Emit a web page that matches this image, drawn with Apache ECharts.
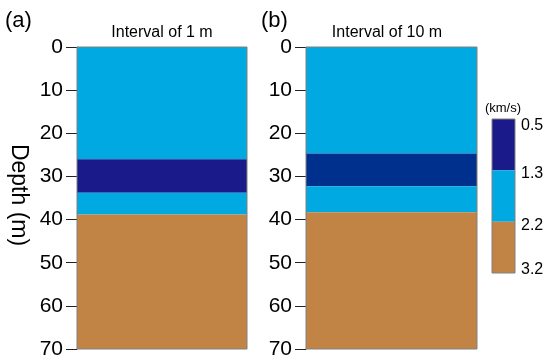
<!DOCTYPE html>
<html><head><meta charset="utf-8">
<script src="https://cdn.jsdelivr.net/npm/echarts@6/dist/echarts.min.js"></script>
<style>html,body{margin:0;padding:0;background:#fff}#c{width:550px;height:361px}</style>
</head><body><div id="c"></div>
<script>
// Depth axis ticks (m)
const depthTicks = [0, 10, 20, 30, 40, 50, 60, 70];
// Layer boundaries (depth, m) and layer classes for each panel
const layerTopsA = [0, 26, 33.8, 38.8];
const layerBottomsA = [26, 33.8, 38.8, 70];
const layerClassA = ['mid', 'lowA', 'mid', 'high'];
const layerTopsB = [0, 24.7, 32.3, 38.3];
const layerBottomsB = [24.7, 32.3, 38.3, 70];
const layerClassB = ['mid', 'lowB', 'mid', 'high'];
// Velocity legend (km/s)
const velocityLabels = ['0.5', '1.3', '2.2', '3.2'];
const legendClasses = ['lowA', 'mid', 'high'];
const panelTitles = ['Interval of 1 m', 'Interval of 10 m'];
const panelLetters = ['(a)', '(b)'];

const colors = { lowA: '#1b1a8b', lowB: '#00308e', mid: '#00a9e2', high: '#c18444' };
const FONT = 'Arial, "Liberation Sans", sans-serif';

function layerData(tops, bottoms, cls) {
  return tops.map((t, i) => [t, bottoms[i], cls[i]]);
}
function makeSeries(idx, data) {
  return {
    type: 'custom', xAxisIndex: idx, yAxisIndex: idx,
    renderItem: (params, api) => {
      const item = data[params.dataIndex];
      const p0 = api.coord([0, item[0]]);
      const p1 = api.coord([1, item[1]]);
      return {
        type: 'rect',
        shape: { x: Math.min(p0[0], p1[0]), y: Math.min(p0[1], p1[1]), width: Math.abs(p1[0] - p0[0]), height: Math.abs(p1[1] - p0[1]) },
        style: { fill: colors[item[2]] }
      };
    },
    encode: { y: [0, 1] },
    data: data.map(d => [d[0], d[1]]),
    silent: true
  };
}

const dataA = layerData(layerTopsA, layerBottomsA, layerClassA);
const dataB = layerData(layerTopsB, layerBottomsB, layerClassB);
const legendData = legendClasses.map((c, i) => [i, i + 1, c]);

const grids = [
  { left: 77, top: 47, width: 170, height: 302 },
  { left: 306, top: 47, width: 171, height: 302 },
  { left: 492, top: 119, width: 23, height: 154 }
].map(g => Object.assign(g, { show: true, borderColor: '#808080', borderWidth: 1, backgroundColor: 'transparent', z: 10 }));

function depthAxis(gi) {
  return {
    type: 'value', gridIndex: gi, inverse: true, min: depthTicks[0], max: depthTicks[depthTicks.length - 1], interval: 10,
    axisLine: { show: true, lineStyle: { color: '#808080', width: 1 } },
    axisTick: { show: true, inside: false, length: 11, lineStyle: { color: '#222', width: 1 } },
    axisLabel: { margin: 14, fontSize: 21, color: '#000', fontFamily: FONT },
    splitLine: { show: false }
  };
}
function hiddenX(gi) {
  return { type: 'value', gridIndex: gi, min: 0, max: 1, show: false };
}

const option = {
  animation: false,
  backgroundColor: '#fff',
  grid: grids,
  xAxis: [hiddenX(0), hiddenX(1), hiddenX(2)],
  yAxis: [depthAxis(0), depthAxis(1), {
    type: 'value', gridIndex: 2, inverse: true, min: 0, max: 3, interval: 1, position: 'right',
    axisLine: { show: false }, axisTick: { show: false }, splitLine: { show: false },
    axisLabel: { margin: 6, fontSize: 16, color: '#000', fontFamily: FONT,
      formatter: v => {
        const i = Math.round(v);
        const key = i === 0 ? 'first' : (i === velocityLabels.length - 1 ? 'last' : 'mid');
        return '{' + key + '|' + velocityLabels[i] + '}';
      },
      rich: {
        first: { fontSize: 16, fontFamily: FONT, color: '#000', padding: [14, 0, 0, 0] },
        mid: { fontSize: 16, fontFamily: FONT, color: '#000', padding: [7, 0, 0, 0] },
        last: { fontSize: 16, fontFamily: FONT, color: '#000', padding: [0, 0, 7, 0] }
      }
    }
  }],
  series: [
    makeSeries(0, dataA),
    makeSeries(1, dataB),
    makeSeries(2, legendData)
  ],
  graphic: [
    { type: 'text', left: 5, top: 10, style: { text: panelLetters[0], font: '22px ' + FONT, fill: '#000' } },
    { type: 'text', left: 261, top: 10, style: { text: panelLetters[1], font: '22px ' + FONT, fill: '#000' } },
    { type: 'text', x: 162, y: 33, style: { text: panelTitles[0], font: '16px ' + FONT, fill: '#000', align: 'center', verticalAlign: 'middle' } },
    { type: 'text', x: 387, y: 33, style: { text: panelTitles[1], font: '16px ' + FONT, fill: '#000', align: 'center', verticalAlign: 'middle' } },
    { type: 'text', x: 503, y: 108, style: { text: '(km/s)', font: '13px ' + FONT, fill: '#000', align: 'center', verticalAlign: 'middle' } },
    { type: 'text', x: 18, y: 195, rotation: -Math.PI / 2, style: { text: 'Depth (m)', font: '23px ' + FONT, fill: '#000', align: 'center', verticalAlign: 'middle' } }
  ]
};
const chart = echarts.init(document.getElementById('c'), null, { renderer: 'canvas' });
chart.setOption(option);
</script></body></html>
